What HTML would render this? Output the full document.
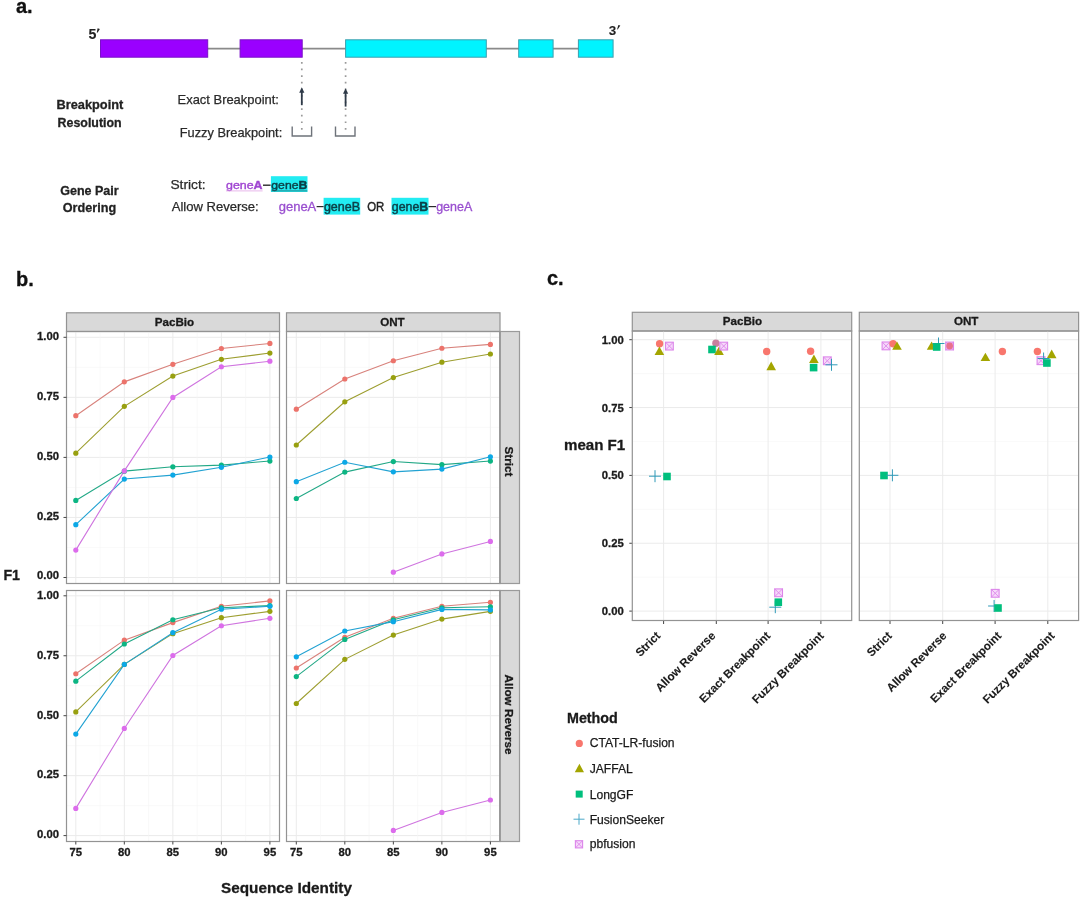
<!DOCTYPE html>
<html><head><meta charset="utf-8"><style>
html,body{margin:0;padding:0;background:#fff;}
body{width:1080px;height:898px;overflow:hidden;}
svg{display:block;font-family:"Liberation Sans",sans-serif;filter:blur(0.35px);}
</style></head><body>
<svg width="1080" height="898" viewBox="0 0 1080 898">
<rect width="1080" height="898" fill="#fff"/>
<text x="16" y="12.5" font-size="20" font-weight="bold" fill="#111" stroke="#111" stroke-width="0.3">a.</text>
<line x1="100" y1="48.6" x2="613" y2="48.6" stroke="#8a8a8a" stroke-width="1.6"/>
<rect x="100.5" y="39.8" width="107.19999999999999" height="17.4" fill="#9a00ff" stroke="#7a10c8" stroke-width="1"/>
<rect x="240.1" y="39.8" width="62.099999999999994" height="17.4" fill="#9a00ff" stroke="#7a10c8" stroke-width="1"/>
<rect x="345.6" y="39.8" width="140.7" height="17.4" fill="#00f4ff" stroke="#3c9fae" stroke-width="1"/>
<rect x="518.7" y="39.8" width="34.39999999999998" height="17.4" fill="#00f4ff" stroke="#3c9fae" stroke-width="1"/>
<rect x="578.4" y="39.8" width="34.700000000000045" height="17.4" fill="#00f4ff" stroke="#3c9fae" stroke-width="1"/>
<text x="88.6" y="39.2" font-size="14.2" font-weight="bold" fill="#222" stroke="#222" stroke-width="0.1">5</text><path d="M97.6 28.3 L99.9 28.9 L97.5 32.7 L96.8 32.5 Z" fill="#222"/>
<text x="608.8" y="34.7" font-size="13.4" font-weight="bold" fill="#222" stroke="#222" stroke-width="0.1">3</text><path d="M618.4 24.9 L620.3 25.4 L617.7 29.4 L617.1 29.2 Z" fill="#222"/>
<line x1="301.8" y1="62" x2="301.8" y2="130" stroke="#9a9a9a" stroke-width="1.7" stroke-dasharray="1.7 4.9"/>
<line x1="345.6" y1="62" x2="345.6" y2="130" stroke="#9a9a9a" stroke-width="1.7" stroke-dasharray="1.7 4.9"/>
<line x1="301.8" y1="91.2" x2="301.8" y2="105.2" stroke="#2e3a48" stroke-width="1.8"/>
<path d="M299.2 92.7 L301.8 87.2 L304.40000000000003 92.7 Z" fill="#2e3a48"/>
<line x1="345.6" y1="92.2" x2="345.6" y2="106.6" stroke="#2e3a48" stroke-width="1.8"/>
<path d="M343.0 93.7 L345.6 88.2 L348.20000000000005 93.7 Z" fill="#2e3a48"/>
<path d="M292.2 126.6 L292.2 136 L311.6 136 L311.6 126.6" fill="none" stroke="#6e737a" stroke-width="1.4"/>
<path d="M335.5 126.6 L335.5 136 L355 136 L355 126.6" fill="none" stroke="#6e737a" stroke-width="1.4"/>
<text x="56.5" y="109.4" font-size="13" font-weight="bold" fill="#222" textLength="66.8" lengthAdjust="spacingAndGlyphs" stroke="#222" stroke-width="0.3">Breakpoint</text>
<text x="57.6" y="127.2" font-size="13" font-weight="bold" fill="#222" textLength="64" lengthAdjust="spacingAndGlyphs" stroke="#222" stroke-width="0.3">Resolution</text>
<text x="177.6" y="103.9" font-size="13" fill="#2a2a2a" textLength="101.3" lengthAdjust="spacingAndGlyphs" stroke="#2a2a2a" stroke-width="0.25">Exact Breakpoint:</text>
<text x="179.8" y="137.2" font-size="13" fill="#2a2a2a" textLength="102.4" lengthAdjust="spacingAndGlyphs" stroke="#2a2a2a" stroke-width="0.25">Fuzzy Breakpoint:</text>
<text x="60.2" y="194.8" font-size="13" font-weight="bold" fill="#222" textLength="58.5" lengthAdjust="spacingAndGlyphs" stroke="#222" stroke-width="0.3">Gene Pair</text>
<text x="62.8" y="211.7" font-size="13" font-weight="bold" fill="#222" textLength="53.3" lengthAdjust="spacingAndGlyphs" stroke="#222" stroke-width="0.3">Ordering</text>
<text x="170.4" y="189.1" font-size="13" fill="#2a2a2a" textLength="35.2" lengthAdjust="spacingAndGlyphs" stroke="#2a2a2a" stroke-width="0.25">Strict:</text>
<text x="171.7" y="211.1" font-size="13" fill="#2a2a2a" textLength="87" lengthAdjust="spacingAndGlyphs" stroke="#2a2a2a" stroke-width="0.25">Allow Reverse:</text>
<rect x="270.9" y="176.2" width="36.6" height="15.8" fill="#22ecf2"/>
<text x="226" y="189" font-size="10.6" fill="#a046d2" stroke="#a046d2" stroke-width="0.35" textLength="36.6" lengthAdjust="spacingAndGlyphs">gene<tspan font-weight="bold">A</tspan></text>
<line x1="263" y1="185.2" x2="270.6" y2="185.2" stroke="#2a2a2a" stroke-width="1.4"/>
<text x="271.3" y="189" font-size="10.6" fill="#0c4048" stroke="#0c4048" stroke-width="0.4" textLength="36" lengthAdjust="spacingAndGlyphs">gene<tspan font-weight="bold">B</tspan></text>
<line x1="226" y1="190.9" x2="262.6" y2="190.9" stroke="#e2a6e6" stroke-width="0.8"/>
<line x1="271.3" y1="190.9" x2="307.3" y2="190.9" stroke="#2a7078" stroke-width="0.8"/>
<rect x="323.6" y="197.8" width="36.6" height="16.8" fill="#22ecf2"/>
<rect x="391.5" y="197.8" width="37" height="16.8" fill="#22ecf2"/>
<text x="278.7" y="210.8" font-size="12" fill="#9a50d0" stroke="#9a50d0" stroke-width="0.3" textLength="37.6" lengthAdjust="spacingAndGlyphs">geneA</text>
<line x1="316.6" y1="206.6" x2="323.6" y2="206.6" stroke="#2a2a2a" stroke-width="1.2"/>
<text x="323.9" y="210.8" font-size="12" fill="#0c4048" stroke="#0c4048" stroke-width="0.45" textLength="36.2" lengthAdjust="spacingAndGlyphs">geneB</text>
<text x="367.2" y="211" font-size="12.2" fill="#222" stroke="#222" stroke-width="0.4" textLength="17.1" lengthAdjust="spacingAndGlyphs">OR</text>
<text x="391.8" y="210.8" font-size="12" fill="#0c4048" stroke="#0c4048" stroke-width="0.45" textLength="36.4" lengthAdjust="spacingAndGlyphs">gene<tspan font-weight="bold">B</tspan></text>
<line x1="428.5" y1="206.6" x2="436" y2="206.6" stroke="#2a2a2a" stroke-width="1.2"/>
<text x="436.2" y="210.8" font-size="12" fill="#9a50d0" stroke="#9a50d0" stroke-width="0.3" textLength="36" lengthAdjust="spacingAndGlyphs">geneA</text>
<text x="16" y="285.7" font-size="20" font-weight="bold" fill="#111" stroke="#111" stroke-width="0.3">b.</text>
<rect x="66.5" y="312.8" width="213.0" height="18.7" fill="#d9d9d9" stroke="#939393" stroke-width="1.2"/>
<text x="174.5" y="325.9" font-size="11.6" font-weight="bold" fill="#1a1a1a" text-anchor="middle" stroke="#1a1a1a" stroke-width="0.3">PacBio</text>
<line x1="66.5" y1="577.50" x2="279.5" y2="577.50" stroke="#ebebeb" stroke-width="1.0"/><line x1="66.5" y1="547.48" x2="279.5" y2="547.48" stroke="#f5f5f5" stroke-width="0.6"/><line x1="66.5" y1="517.45" x2="279.5" y2="517.45" stroke="#ebebeb" stroke-width="1.0"/><line x1="66.5" y1="487.43" x2="279.5" y2="487.43" stroke="#f5f5f5" stroke-width="0.6"/><line x1="66.5" y1="457.40" x2="279.5" y2="457.40" stroke="#ebebeb" stroke-width="1.0"/><line x1="66.5" y1="427.38" x2="279.5" y2="427.38" stroke="#f5f5f5" stroke-width="0.6"/><line x1="66.5" y1="397.35" x2="279.5" y2="397.35" stroke="#ebebeb" stroke-width="1.0"/><line x1="66.5" y1="367.33" x2="279.5" y2="367.33" stroke="#f5f5f5" stroke-width="0.6"/><line x1="66.5" y1="337.30" x2="279.5" y2="337.30" stroke="#ebebeb" stroke-width="1.0"/><line x1="75.80" y1="331.5" x2="75.80" y2="583.5" stroke="#ebebeb" stroke-width="1.0"/><line x1="100.06" y1="331.5" x2="100.06" y2="583.5" stroke="#f5f5f5" stroke-width="0.6"/><line x1="124.32" y1="331.5" x2="124.32" y2="583.5" stroke="#ebebeb" stroke-width="1.0"/><line x1="148.59" y1="331.5" x2="148.59" y2="583.5" stroke="#f5f5f5" stroke-width="0.6"/><line x1="172.85" y1="331.5" x2="172.85" y2="583.5" stroke="#ebebeb" stroke-width="1.0"/><line x1="197.11" y1="331.5" x2="197.11" y2="583.5" stroke="#f5f5f5" stroke-width="0.6"/><line x1="221.38" y1="331.5" x2="221.38" y2="583.5" stroke="#ebebeb" stroke-width="1.0"/><line x1="245.64" y1="331.5" x2="245.64" y2="583.5" stroke="#f5f5f5" stroke-width="0.6"/><line x1="269.90" y1="331.5" x2="269.90" y2="583.5" stroke="#ebebeb" stroke-width="1.0"/>
<polyline points="75.80,415.70 124.32,381.86 172.85,364.34 221.38,348.50 269.90,343.46" fill="none" stroke="#d8827c" stroke-width="1.1"/>
<polyline points="75.80,453.14 124.32,406.34 172.85,376.10 221.38,359.30 269.90,353.06" fill="none" stroke="#9d9e30" stroke-width="1.1"/>
<polyline points="75.80,500.42 124.32,471.14 172.85,466.82 221.38,465.14 269.90,461.06" fill="none" stroke="#22a886" stroke-width="1.1"/>
<polyline points="75.80,524.66 124.32,479.06 172.85,475.10 221.38,467.30 269.90,456.98" fill="none" stroke="#22a2d2" stroke-width="1.1"/>
<polyline points="75.80,550.10 124.32,470.90 172.85,397.46 221.38,366.74 269.90,361.22" fill="none" stroke="#cf74df" stroke-width="1.1"/>
<circle cx="75.80" cy="415.70" r="2.6" fill="#ec736b"/>
<circle cx="124.32" cy="381.86" r="2.6" fill="#ec736b"/>
<circle cx="172.85" cy="364.34" r="2.6" fill="#ec736b"/>
<circle cx="221.38" cy="348.50" r="2.6" fill="#ec736b"/>
<circle cx="269.90" cy="343.46" r="2.6" fill="#ec736b"/>
<circle cx="75.80" cy="453.14" r="2.6" fill="#98a010"/>
<circle cx="124.32" cy="406.34" r="2.6" fill="#98a010"/>
<circle cx="172.85" cy="376.10" r="2.6" fill="#98a010"/>
<circle cx="221.38" cy="359.30" r="2.6" fill="#98a010"/>
<circle cx="269.90" cy="353.06" r="2.6" fill="#98a010"/>
<circle cx="75.80" cy="500.42" r="2.6" fill="#0cb583"/>
<circle cx="124.32" cy="471.14" r="2.6" fill="#0cb583"/>
<circle cx="172.85" cy="466.82" r="2.6" fill="#0cb583"/>
<circle cx="221.38" cy="465.14" r="2.6" fill="#0cb583"/>
<circle cx="269.90" cy="461.06" r="2.6" fill="#0cb583"/>
<circle cx="75.80" cy="524.66" r="2.6" fill="#0ca8e6"/>
<circle cx="124.32" cy="479.06" r="2.6" fill="#0ca8e6"/>
<circle cx="172.85" cy="475.10" r="2.6" fill="#0ca8e6"/>
<circle cx="221.38" cy="467.30" r="2.6" fill="#0ca8e6"/>
<circle cx="269.90" cy="456.98" r="2.6" fill="#0ca8e6"/>
<circle cx="75.80" cy="550.10" r="2.6" fill="#dc6cec"/>
<circle cx="124.32" cy="470.90" r="2.6" fill="#dc6cec"/>
<circle cx="172.85" cy="397.46" r="2.6" fill="#dc6cec"/>
<circle cx="221.38" cy="366.74" r="2.6" fill="#dc6cec"/>
<circle cx="269.90" cy="361.22" r="2.6" fill="#dc6cec"/>
<rect x="66.5" y="331.5" width="213.0" height="252.0" fill="none" stroke="#939393" stroke-width="1.2"/>
<line x1="63.5" y1="577.50" x2="66.5" y2="577.50" stroke="#444" stroke-width="1"/>
<text x="59.0" y="578.70" font-size="11.3" font-weight="bold" fill="#1a1a1a" text-anchor="end" stroke="#1a1a1a" stroke-width="0.3">0.00</text>
<line x1="63.5" y1="517.45" x2="66.5" y2="517.45" stroke="#444" stroke-width="1"/>
<text x="59.0" y="520.25" font-size="11.3" font-weight="bold" fill="#1a1a1a" text-anchor="end" stroke="#1a1a1a" stroke-width="0.3">0.25</text>
<line x1="63.5" y1="457.40" x2="66.5" y2="457.40" stroke="#444" stroke-width="1"/>
<text x="59.0" y="460.20" font-size="11.3" font-weight="bold" fill="#1a1a1a" text-anchor="end" stroke="#1a1a1a" stroke-width="0.3">0.50</text>
<line x1="63.5" y1="397.35" x2="66.5" y2="397.35" stroke="#444" stroke-width="1"/>
<text x="59.0" y="400.15" font-size="11.3" font-weight="bold" fill="#1a1a1a" text-anchor="end" stroke="#1a1a1a" stroke-width="0.3">0.75</text>
<line x1="63.5" y1="337.30" x2="66.5" y2="337.30" stroke="#444" stroke-width="1"/>
<text x="59.0" y="340.10" font-size="11.3" font-weight="bold" fill="#1a1a1a" text-anchor="end" stroke="#1a1a1a" stroke-width="0.3">1.00</text>
<line x1="66.5" y1="835.60" x2="279.5" y2="835.60" stroke="#ebebeb" stroke-width="1.0"/><line x1="66.5" y1="805.62" x2="279.5" y2="805.62" stroke="#f5f5f5" stroke-width="0.6"/><line x1="66.5" y1="775.65" x2="279.5" y2="775.65" stroke="#ebebeb" stroke-width="1.0"/><line x1="66.5" y1="745.67" x2="279.5" y2="745.67" stroke="#f5f5f5" stroke-width="0.6"/><line x1="66.5" y1="715.70" x2="279.5" y2="715.70" stroke="#ebebeb" stroke-width="1.0"/><line x1="66.5" y1="685.73" x2="279.5" y2="685.73" stroke="#f5f5f5" stroke-width="0.6"/><line x1="66.5" y1="655.75" x2="279.5" y2="655.75" stroke="#ebebeb" stroke-width="1.0"/><line x1="66.5" y1="625.77" x2="279.5" y2="625.77" stroke="#f5f5f5" stroke-width="0.6"/><line x1="66.5" y1="595.80" x2="279.5" y2="595.80" stroke="#ebebeb" stroke-width="1.0"/><line x1="75.80" y1="590.5" x2="75.80" y2="841.5" stroke="#ebebeb" stroke-width="1.0"/><line x1="100.06" y1="590.5" x2="100.06" y2="841.5" stroke="#f5f5f5" stroke-width="0.6"/><line x1="124.32" y1="590.5" x2="124.32" y2="841.5" stroke="#ebebeb" stroke-width="1.0"/><line x1="148.59" y1="590.5" x2="148.59" y2="841.5" stroke="#f5f5f5" stroke-width="0.6"/><line x1="172.85" y1="590.5" x2="172.85" y2="841.5" stroke="#ebebeb" stroke-width="1.0"/><line x1="197.11" y1="590.5" x2="197.11" y2="841.5" stroke="#f5f5f5" stroke-width="0.6"/><line x1="221.38" y1="590.5" x2="221.38" y2="841.5" stroke="#ebebeb" stroke-width="1.0"/><line x1="245.64" y1="590.5" x2="245.64" y2="841.5" stroke="#f5f5f5" stroke-width="0.6"/><line x1="269.90" y1="590.5" x2="269.90" y2="841.5" stroke="#ebebeb" stroke-width="1.0"/>
<polyline points="75.80,673.74 124.32,640.14 172.85,622.62 221.38,606.30 269.90,600.90" fill="none" stroke="#d8827c" stroke-width="1.1"/>
<polyline points="75.80,711.90 124.32,664.38 172.85,633.66 221.38,617.70 269.90,611.34" fill="none" stroke="#9d9e30" stroke-width="1.1"/>
<polyline points="75.80,681.18 124.32,643.98 172.85,619.74 221.38,607.74 269.90,605.58" fill="none" stroke="#22a886" stroke-width="1.1"/>
<polyline points="75.80,734.10 124.32,664.38 172.85,632.70 221.38,609.18 269.90,606.30" fill="none" stroke="#22a2d2" stroke-width="1.1"/>
<polyline points="75.80,808.38 124.32,728.46 172.85,655.50 221.38,625.74 269.90,618.30" fill="none" stroke="#cf74df" stroke-width="1.1"/>
<circle cx="75.80" cy="673.74" r="2.6" fill="#ec736b"/>
<circle cx="124.32" cy="640.14" r="2.6" fill="#ec736b"/>
<circle cx="172.85" cy="622.62" r="2.6" fill="#ec736b"/>
<circle cx="221.38" cy="606.30" r="2.6" fill="#ec736b"/>
<circle cx="269.90" cy="600.90" r="2.6" fill="#ec736b"/>
<circle cx="75.80" cy="711.90" r="2.6" fill="#98a010"/>
<circle cx="124.32" cy="664.38" r="2.6" fill="#98a010"/>
<circle cx="172.85" cy="633.66" r="2.6" fill="#98a010"/>
<circle cx="221.38" cy="617.70" r="2.6" fill="#98a010"/>
<circle cx="269.90" cy="611.34" r="2.6" fill="#98a010"/>
<circle cx="75.80" cy="681.18" r="2.6" fill="#0cb583"/>
<circle cx="124.32" cy="643.98" r="2.6" fill="#0cb583"/>
<circle cx="172.85" cy="619.74" r="2.6" fill="#0cb583"/>
<circle cx="221.38" cy="607.74" r="2.6" fill="#0cb583"/>
<circle cx="269.90" cy="605.58" r="2.6" fill="#0cb583"/>
<circle cx="75.80" cy="734.10" r="2.6" fill="#0ca8e6"/>
<circle cx="124.32" cy="664.38" r="2.6" fill="#0ca8e6"/>
<circle cx="172.85" cy="632.70" r="2.6" fill="#0ca8e6"/>
<circle cx="221.38" cy="609.18" r="2.6" fill="#0ca8e6"/>
<circle cx="269.90" cy="606.30" r="2.6" fill="#0ca8e6"/>
<circle cx="75.80" cy="808.38" r="2.6" fill="#dc6cec"/>
<circle cx="124.32" cy="728.46" r="2.6" fill="#dc6cec"/>
<circle cx="172.85" cy="655.50" r="2.6" fill="#dc6cec"/>
<circle cx="221.38" cy="625.74" r="2.6" fill="#dc6cec"/>
<circle cx="269.90" cy="618.30" r="2.6" fill="#dc6cec"/>
<rect x="66.5" y="590.5" width="213.0" height="251.0" fill="none" stroke="#939393" stroke-width="1.2"/>
<line x1="75.80" y1="841.5" x2="75.80" y2="844.5" stroke="#444" stroke-width="1"/>
<text x="75.80" y="856" font-size="11.3" font-weight="bold" fill="#1a1a1a" text-anchor="middle" stroke="#1a1a1a" stroke-width="0.3">75</text>
<line x1="124.32" y1="841.5" x2="124.32" y2="844.5" stroke="#444" stroke-width="1"/>
<text x="124.32" y="856" font-size="11.3" font-weight="bold" fill="#1a1a1a" text-anchor="middle" stroke="#1a1a1a" stroke-width="0.3">80</text>
<line x1="172.85" y1="841.5" x2="172.85" y2="844.5" stroke="#444" stroke-width="1"/>
<text x="172.85" y="856" font-size="11.3" font-weight="bold" fill="#1a1a1a" text-anchor="middle" stroke="#1a1a1a" stroke-width="0.3">85</text>
<line x1="221.38" y1="841.5" x2="221.38" y2="844.5" stroke="#444" stroke-width="1"/>
<text x="221.38" y="856" font-size="11.3" font-weight="bold" fill="#1a1a1a" text-anchor="middle" stroke="#1a1a1a" stroke-width="0.3">90</text>
<line x1="269.90" y1="841.5" x2="269.90" y2="844.5" stroke="#444" stroke-width="1"/>
<text x="269.90" y="856" font-size="11.3" font-weight="bold" fill="#1a1a1a" text-anchor="middle" stroke="#1a1a1a" stroke-width="0.3">95</text>
<line x1="63.5" y1="835.60" x2="66.5" y2="835.60" stroke="#444" stroke-width="1"/>
<text x="59.0" y="838.40" font-size="11.3" font-weight="bold" fill="#1a1a1a" text-anchor="end" stroke="#1a1a1a" stroke-width="0.3">0.00</text>
<line x1="63.5" y1="775.65" x2="66.5" y2="775.65" stroke="#444" stroke-width="1"/>
<text x="59.0" y="778.45" font-size="11.3" font-weight="bold" fill="#1a1a1a" text-anchor="end" stroke="#1a1a1a" stroke-width="0.3">0.25</text>
<line x1="63.5" y1="715.70" x2="66.5" y2="715.70" stroke="#444" stroke-width="1"/>
<text x="59.0" y="718.50" font-size="11.3" font-weight="bold" fill="#1a1a1a" text-anchor="end" stroke="#1a1a1a" stroke-width="0.3">0.50</text>
<line x1="63.5" y1="655.75" x2="66.5" y2="655.75" stroke="#444" stroke-width="1"/>
<text x="59.0" y="658.55" font-size="11.3" font-weight="bold" fill="#1a1a1a" text-anchor="end" stroke="#1a1a1a" stroke-width="0.3">0.75</text>
<line x1="63.5" y1="595.80" x2="66.5" y2="595.80" stroke="#444" stroke-width="1"/>
<text x="59.0" y="598.60" font-size="11.3" font-weight="bold" fill="#1a1a1a" text-anchor="end" stroke="#1a1a1a" stroke-width="0.3">1.00</text>
<rect x="286.5" y="312.8" width="213.5" height="18.7" fill="#d9d9d9" stroke="#939393" stroke-width="1.2"/>
<text x="392.45" y="325.9" font-size="11.6" font-weight="bold" fill="#1a1a1a" text-anchor="middle" stroke="#1a1a1a" stroke-width="0.3">ONT</text>
<line x1="286.5" y1="577.50" x2="500.0" y2="577.50" stroke="#ebebeb" stroke-width="1.0"/><line x1="286.5" y1="547.48" x2="500.0" y2="547.48" stroke="#f5f5f5" stroke-width="0.6"/><line x1="286.5" y1="517.45" x2="500.0" y2="517.45" stroke="#ebebeb" stroke-width="1.0"/><line x1="286.5" y1="487.43" x2="500.0" y2="487.43" stroke="#f5f5f5" stroke-width="0.6"/><line x1="286.5" y1="457.40" x2="500.0" y2="457.40" stroke="#ebebeb" stroke-width="1.0"/><line x1="286.5" y1="427.38" x2="500.0" y2="427.38" stroke="#f5f5f5" stroke-width="0.6"/><line x1="286.5" y1="397.35" x2="500.0" y2="397.35" stroke="#ebebeb" stroke-width="1.0"/><line x1="286.5" y1="367.33" x2="500.0" y2="367.33" stroke="#f5f5f5" stroke-width="0.6"/><line x1="286.5" y1="337.30" x2="500.0" y2="337.30" stroke="#ebebeb" stroke-width="1.0"/><line x1="296.30" y1="331.5" x2="296.30" y2="583.5" stroke="#ebebeb" stroke-width="1.0"/><line x1="320.56" y1="331.5" x2="320.56" y2="583.5" stroke="#f5f5f5" stroke-width="0.6"/><line x1="344.82" y1="331.5" x2="344.82" y2="583.5" stroke="#ebebeb" stroke-width="1.0"/><line x1="369.09" y1="331.5" x2="369.09" y2="583.5" stroke="#f5f5f5" stroke-width="0.6"/><line x1="393.35" y1="331.5" x2="393.35" y2="583.5" stroke="#ebebeb" stroke-width="1.0"/><line x1="417.61" y1="331.5" x2="417.61" y2="583.5" stroke="#f5f5f5" stroke-width="0.6"/><line x1="441.88" y1="331.5" x2="441.88" y2="583.5" stroke="#ebebeb" stroke-width="1.0"/><line x1="466.14" y1="331.5" x2="466.14" y2="583.5" stroke="#f5f5f5" stroke-width="0.6"/><line x1="490.40" y1="331.5" x2="490.40" y2="583.5" stroke="#ebebeb" stroke-width="1.0"/>
<polyline points="296.30,409.22 344.82,378.98 393.35,360.74 441.88,348.26 490.40,344.42" fill="none" stroke="#d8827c" stroke-width="1.1"/>
<polyline points="296.30,444.98 344.82,401.78 393.35,377.54 441.88,362.18 490.40,354.02" fill="none" stroke="#9d9e30" stroke-width="1.1"/>
<polyline points="296.30,498.50 344.82,472.10 393.35,461.54 441.88,464.66 490.40,461.06" fill="none" stroke="#22a886" stroke-width="1.1"/>
<polyline points="296.30,481.70 344.82,462.26 393.35,471.86 441.88,469.10 490.40,456.74" fill="none" stroke="#22a2d2" stroke-width="1.1"/>
<polyline points="393.35,572.18 441.88,553.94 490.40,541.46" fill="none" stroke="#cf74df" stroke-width="1.1"/>
<circle cx="296.30" cy="409.22" r="2.6" fill="#ec736b"/>
<circle cx="344.82" cy="378.98" r="2.6" fill="#ec736b"/>
<circle cx="393.35" cy="360.74" r="2.6" fill="#ec736b"/>
<circle cx="441.88" cy="348.26" r="2.6" fill="#ec736b"/>
<circle cx="490.40" cy="344.42" r="2.6" fill="#ec736b"/>
<circle cx="296.30" cy="444.98" r="2.6" fill="#98a010"/>
<circle cx="344.82" cy="401.78" r="2.6" fill="#98a010"/>
<circle cx="393.35" cy="377.54" r="2.6" fill="#98a010"/>
<circle cx="441.88" cy="362.18" r="2.6" fill="#98a010"/>
<circle cx="490.40" cy="354.02" r="2.6" fill="#98a010"/>
<circle cx="296.30" cy="498.50" r="2.6" fill="#0cb583"/>
<circle cx="344.82" cy="472.10" r="2.6" fill="#0cb583"/>
<circle cx="393.35" cy="461.54" r="2.6" fill="#0cb583"/>
<circle cx="441.88" cy="464.66" r="2.6" fill="#0cb583"/>
<circle cx="490.40" cy="461.06" r="2.6" fill="#0cb583"/>
<circle cx="296.30" cy="481.70" r="2.6" fill="#0ca8e6"/>
<circle cx="344.82" cy="462.26" r="2.6" fill="#0ca8e6"/>
<circle cx="393.35" cy="471.86" r="2.6" fill="#0ca8e6"/>
<circle cx="441.88" cy="469.10" r="2.6" fill="#0ca8e6"/>
<circle cx="490.40" cy="456.74" r="2.6" fill="#0ca8e6"/>
<circle cx="393.35" cy="572.18" r="2.6" fill="#dc6cec"/>
<circle cx="441.88" cy="553.94" r="2.6" fill="#dc6cec"/>
<circle cx="490.40" cy="541.46" r="2.6" fill="#dc6cec"/>
<rect x="286.5" y="331.5" width="213.5" height="252.0" fill="none" stroke="#939393" stroke-width="1.2"/>
<line x1="286.5" y1="835.60" x2="500.0" y2="835.60" stroke="#ebebeb" stroke-width="1.0"/><line x1="286.5" y1="805.62" x2="500.0" y2="805.62" stroke="#f5f5f5" stroke-width="0.6"/><line x1="286.5" y1="775.65" x2="500.0" y2="775.65" stroke="#ebebeb" stroke-width="1.0"/><line x1="286.5" y1="745.67" x2="500.0" y2="745.67" stroke="#f5f5f5" stroke-width="0.6"/><line x1="286.5" y1="715.70" x2="500.0" y2="715.70" stroke="#ebebeb" stroke-width="1.0"/><line x1="286.5" y1="685.73" x2="500.0" y2="685.73" stroke="#f5f5f5" stroke-width="0.6"/><line x1="286.5" y1="655.75" x2="500.0" y2="655.75" stroke="#ebebeb" stroke-width="1.0"/><line x1="286.5" y1="625.77" x2="500.0" y2="625.77" stroke="#f5f5f5" stroke-width="0.6"/><line x1="286.5" y1="595.80" x2="500.0" y2="595.80" stroke="#ebebeb" stroke-width="1.0"/><line x1="296.30" y1="590.5" x2="296.30" y2="841.5" stroke="#ebebeb" stroke-width="1.0"/><line x1="320.56" y1="590.5" x2="320.56" y2="841.5" stroke="#f5f5f5" stroke-width="0.6"/><line x1="344.82" y1="590.5" x2="344.82" y2="841.5" stroke="#ebebeb" stroke-width="1.0"/><line x1="369.09" y1="590.5" x2="369.09" y2="841.5" stroke="#f5f5f5" stroke-width="0.6"/><line x1="393.35" y1="590.5" x2="393.35" y2="841.5" stroke="#ebebeb" stroke-width="1.0"/><line x1="417.61" y1="590.5" x2="417.61" y2="841.5" stroke="#f5f5f5" stroke-width="0.6"/><line x1="441.88" y1="590.5" x2="441.88" y2="841.5" stroke="#ebebeb" stroke-width="1.0"/><line x1="466.14" y1="590.5" x2="466.14" y2="841.5" stroke="#f5f5f5" stroke-width="0.6"/><line x1="490.40" y1="590.5" x2="490.40" y2="841.5" stroke="#ebebeb" stroke-width="1.0"/>
<polyline points="296.30,667.98 344.82,637.26 393.35,618.30 441.88,606.30 490.40,602.29" fill="none" stroke="#d8827c" stroke-width="1.1"/>
<polyline points="296.30,703.50 344.82,659.34 393.35,635.10 441.88,619.09 490.40,611.34" fill="none" stroke="#9d9e30" stroke-width="1.1"/>
<polyline points="296.30,676.62 344.82,639.42 393.35,619.74 441.88,607.74 490.40,606.78" fill="none" stroke="#22a886" stroke-width="1.1"/>
<polyline points="296.30,656.80 344.82,631.02 393.35,621.66 441.88,609.42 490.40,609.90" fill="none" stroke="#22a2d2" stroke-width="1.1"/>
<polyline points="393.35,830.46 441.88,812.46 490.40,799.98" fill="none" stroke="#cf74df" stroke-width="1.1"/>
<circle cx="296.30" cy="667.98" r="2.6" fill="#ec736b"/>
<circle cx="344.82" cy="637.26" r="2.6" fill="#ec736b"/>
<circle cx="393.35" cy="618.30" r="2.6" fill="#ec736b"/>
<circle cx="441.88" cy="606.30" r="2.6" fill="#ec736b"/>
<circle cx="490.40" cy="602.29" r="2.6" fill="#ec736b"/>
<circle cx="296.30" cy="703.50" r="2.6" fill="#98a010"/>
<circle cx="344.82" cy="659.34" r="2.6" fill="#98a010"/>
<circle cx="393.35" cy="635.10" r="2.6" fill="#98a010"/>
<circle cx="441.88" cy="619.09" r="2.6" fill="#98a010"/>
<circle cx="490.40" cy="611.34" r="2.6" fill="#98a010"/>
<circle cx="296.30" cy="676.62" r="2.6" fill="#0cb583"/>
<circle cx="344.82" cy="639.42" r="2.6" fill="#0cb583"/>
<circle cx="393.35" cy="619.74" r="2.6" fill="#0cb583"/>
<circle cx="441.88" cy="607.74" r="2.6" fill="#0cb583"/>
<circle cx="490.40" cy="606.78" r="2.6" fill="#0cb583"/>
<circle cx="296.30" cy="656.80" r="2.6" fill="#0ca8e6"/>
<circle cx="344.82" cy="631.02" r="2.6" fill="#0ca8e6"/>
<circle cx="393.35" cy="621.66" r="2.6" fill="#0ca8e6"/>
<circle cx="441.88" cy="609.42" r="2.6" fill="#0ca8e6"/>
<circle cx="490.40" cy="609.90" r="2.6" fill="#0ca8e6"/>
<circle cx="393.35" cy="830.46" r="2.6" fill="#dc6cec"/>
<circle cx="441.88" cy="812.46" r="2.6" fill="#dc6cec"/>
<circle cx="490.40" cy="799.98" r="2.6" fill="#dc6cec"/>
<rect x="286.5" y="590.5" width="213.5" height="251.0" fill="none" stroke="#939393" stroke-width="1.2"/>
<line x1="296.30" y1="841.5" x2="296.30" y2="844.5" stroke="#444" stroke-width="1"/>
<text x="296.30" y="856" font-size="11.3" font-weight="bold" fill="#1a1a1a" text-anchor="middle" stroke="#1a1a1a" stroke-width="0.3">75</text>
<line x1="344.82" y1="841.5" x2="344.82" y2="844.5" stroke="#444" stroke-width="1"/>
<text x="344.82" y="856" font-size="11.3" font-weight="bold" fill="#1a1a1a" text-anchor="middle" stroke="#1a1a1a" stroke-width="0.3">80</text>
<line x1="393.35" y1="841.5" x2="393.35" y2="844.5" stroke="#444" stroke-width="1"/>
<text x="393.35" y="856" font-size="11.3" font-weight="bold" fill="#1a1a1a" text-anchor="middle" stroke="#1a1a1a" stroke-width="0.3">85</text>
<line x1="441.88" y1="841.5" x2="441.88" y2="844.5" stroke="#444" stroke-width="1"/>
<text x="441.88" y="856" font-size="11.3" font-weight="bold" fill="#1a1a1a" text-anchor="middle" stroke="#1a1a1a" stroke-width="0.3">90</text>
<line x1="490.40" y1="841.5" x2="490.40" y2="844.5" stroke="#444" stroke-width="1"/>
<text x="490.40" y="856" font-size="11.3" font-weight="bold" fill="#1a1a1a" text-anchor="middle" stroke="#1a1a1a" stroke-width="0.3">95</text>
<rect x="500" y="331.5" width="19.5" height="252.0" fill="#d9d9d9" stroke="#9a9a9a" stroke-width="1.2"/>
<line x1="500" y1="331.5" x2="500" y2="583.5" stroke="#939393" stroke-width="1.4"/>
<text transform="translate(504.8 461.5) rotate(90)" font-size="11.7" font-weight="bold" fill="#1a1a1a" text-anchor="middle" stroke="#1a1a1a" stroke-width="0.3">Strict</text>
<rect x="500" y="590.5" width="19.5" height="251.0" fill="#d9d9d9" stroke="#9a9a9a" stroke-width="1.2"/>
<line x1="500" y1="590.5" x2="500" y2="841.5" stroke="#939393" stroke-width="1.4"/>
<text transform="translate(504.8 714.5) rotate(90)" font-size="11.7" font-weight="bold" fill="#1a1a1a" text-anchor="middle" stroke="#1a1a1a" stroke-width="0.3">Allow Reverse</text>
<text x="3.4" y="580.2" font-size="14.2" font-weight="bold" fill="#1a1a1a" stroke="#1a1a1a" stroke-width="0.3">F1</text>
<text x="221" y="893" font-size="15.3" font-weight="bold" fill="#1a1a1a" stroke="#1a1a1a" stroke-width="0.3">Sequence Identity</text>
<text x="547" y="284.7" font-size="20" font-weight="bold" fill="#111" stroke="#111" stroke-width="0.3">c.</text>
<rect x="632.3" y="312.3" width="219.4000000000001" height="18.7" fill="#d9d9d9" stroke="#939393" stroke-width="1.2"/>
<text x="742.5" y="324.6" font-size="11.6" font-weight="bold" fill="#1a1a1a" text-anchor="middle" stroke="#1a1a1a" stroke-width="0.3">PacBio</text>
<line x1="632.3" y1="611.10" x2="851.7" y2="611.10" stroke="#ebebeb" stroke-width="1.0"/><line x1="632.3" y1="577.18" x2="851.7" y2="577.18" stroke="#f5f5f5" stroke-width="0.6"/><line x1="632.3" y1="543.25" x2="851.7" y2="543.25" stroke="#ebebeb" stroke-width="1.0"/><line x1="632.3" y1="509.33" x2="851.7" y2="509.33" stroke="#f5f5f5" stroke-width="0.6"/><line x1="632.3" y1="475.40" x2="851.7" y2="475.40" stroke="#ebebeb" stroke-width="1.0"/><line x1="632.3" y1="441.48" x2="851.7" y2="441.48" stroke="#f5f5f5" stroke-width="0.6"/><line x1="632.3" y1="407.55" x2="851.7" y2="407.55" stroke="#ebebeb" stroke-width="1.0"/><line x1="632.3" y1="373.63" x2="851.7" y2="373.63" stroke="#f5f5f5" stroke-width="0.6"/><line x1="632.3" y1="339.70" x2="851.7" y2="339.70" stroke="#ebebeb" stroke-width="1.0"/><line x1="663.6" y1="331.0" x2="663.6" y2="620.5" stroke="#ebebeb" stroke-width="1"/><line x1="716.3" y1="331.0" x2="716.3" y2="620.5" stroke="#ebebeb" stroke-width="1"/><line x1="768.1" y1="331.0" x2="768.1" y2="620.5" stroke="#ebebeb" stroke-width="1"/><line x1="820.9" y1="331.0" x2="820.9" y2="620.5" stroke="#ebebeb" stroke-width="1"/>
<line x1="663.6" y1="620.5" x2="663.6" y2="624.0" stroke="#444" stroke-width="1"/>
<text transform="translate(661.10 636.4) rotate(-45)" font-size="11.6" font-weight="bold" fill="#1a1a1a" text-anchor="end" stroke="#1a1a1a" stroke-width="0.12">Strict</text>
<line x1="716.3" y1="620.5" x2="716.3" y2="624.0" stroke="#444" stroke-width="1"/>
<text transform="translate(716.20 636.4) rotate(-45)" font-size="11.6" font-weight="bold" fill="#1a1a1a" text-anchor="end" stroke="#1a1a1a" stroke-width="0.12">Allow Reverse</text>
<line x1="768.1" y1="620.5" x2="768.1" y2="624.0" stroke="#444" stroke-width="1"/>
<text transform="translate(770.90 636.4) rotate(-45)" font-size="11.6" font-weight="bold" fill="#1a1a1a" text-anchor="end" stroke="#1a1a1a" stroke-width="0.12">Exact Breakpoint</text>
<line x1="820.9" y1="620.5" x2="820.9" y2="624.0" stroke="#444" stroke-width="1"/>
<text transform="translate(824.60 636.4) rotate(-45)" font-size="11.6" font-weight="bold" fill="#1a1a1a" text-anchor="end" stroke="#1a1a1a" stroke-width="0.12">Fuzzy Breakpoint</text>
<line x1="629.3" y1="611.10" x2="632.3" y2="611.10" stroke="#444" stroke-width="1"/>
<text x="623.8" y="615.10" font-size="11.3" font-weight="bold" fill="#1a1a1a" text-anchor="end" stroke="#1a1a1a" stroke-width="0.3">0.00</text>
<line x1="629.3" y1="543.25" x2="632.3" y2="543.25" stroke="#444" stroke-width="1"/>
<text x="623.8" y="547.25" font-size="11.3" font-weight="bold" fill="#1a1a1a" text-anchor="end" stroke="#1a1a1a" stroke-width="0.3">0.25</text>
<line x1="629.3" y1="475.40" x2="632.3" y2="475.40" stroke="#444" stroke-width="1"/>
<text x="623.8" y="479.40" font-size="11.3" font-weight="bold" fill="#1a1a1a" text-anchor="end" stroke="#1a1a1a" stroke-width="0.3">0.50</text>
<line x1="629.3" y1="407.55" x2="632.3" y2="407.55" stroke="#444" stroke-width="1"/>
<text x="623.8" y="411.55" font-size="11.3" font-weight="bold" fill="#1a1a1a" text-anchor="end" stroke="#1a1a1a" stroke-width="0.3">0.75</text>
<line x1="629.3" y1="339.70" x2="632.3" y2="339.70" stroke="#444" stroke-width="1"/>
<text x="623.8" y="343.70" font-size="11.3" font-weight="bold" fill="#1a1a1a" text-anchor="end" stroke="#1a1a1a" stroke-width="0.3">1.00</text>
<rect x="859.3" y="312.3" width="219.29999999999995" height="18.7" fill="#d9d9d9" stroke="#939393" stroke-width="1.2"/>
<text x="966.15" y="324.6" font-size="11.6" font-weight="bold" fill="#1a1a1a" text-anchor="middle" stroke="#1a1a1a" stroke-width="0.3">ONT</text>
<line x1="859.3" y1="611.10" x2="1078.6" y2="611.10" stroke="#ebebeb" stroke-width="1.0"/><line x1="859.3" y1="577.18" x2="1078.6" y2="577.18" stroke="#f5f5f5" stroke-width="0.6"/><line x1="859.3" y1="543.25" x2="1078.6" y2="543.25" stroke="#ebebeb" stroke-width="1.0"/><line x1="859.3" y1="509.33" x2="1078.6" y2="509.33" stroke="#f5f5f5" stroke-width="0.6"/><line x1="859.3" y1="475.40" x2="1078.6" y2="475.40" stroke="#ebebeb" stroke-width="1.0"/><line x1="859.3" y1="441.48" x2="1078.6" y2="441.48" stroke="#f5f5f5" stroke-width="0.6"/><line x1="859.3" y1="407.55" x2="1078.6" y2="407.55" stroke="#ebebeb" stroke-width="1.0"/><line x1="859.3" y1="373.63" x2="1078.6" y2="373.63" stroke="#f5f5f5" stroke-width="0.6"/><line x1="859.3" y1="339.70" x2="1078.6" y2="339.70" stroke="#ebebeb" stroke-width="1.0"/><line x1="890.0" y1="331.0" x2="890.0" y2="620.5" stroke="#ebebeb" stroke-width="1"/><line x1="942.7" y1="331.0" x2="942.7" y2="620.5" stroke="#ebebeb" stroke-width="1"/><line x1="995.1" y1="331.0" x2="995.1" y2="620.5" stroke="#ebebeb" stroke-width="1"/><line x1="1047.8" y1="331.0" x2="1047.8" y2="620.5" stroke="#ebebeb" stroke-width="1"/>
<line x1="890.0" y1="620.5" x2="890.0" y2="624.0" stroke="#444" stroke-width="1"/>
<text transform="translate(892.50 636.4) rotate(-45)" font-size="11.6" font-weight="bold" fill="#1a1a1a" text-anchor="end" stroke="#1a1a1a" stroke-width="0.12">Strict</text>
<line x1="942.7" y1="620.5" x2="942.7" y2="624.0" stroke="#444" stroke-width="1"/>
<text transform="translate(947.40 636.4) rotate(-45)" font-size="11.6" font-weight="bold" fill="#1a1a1a" text-anchor="end" stroke="#1a1a1a" stroke-width="0.12">Allow Reverse</text>
<line x1="995.1" y1="620.5" x2="995.1" y2="624.0" stroke="#444" stroke-width="1"/>
<text transform="translate(1002.00 636.4) rotate(-45)" font-size="11.6" font-weight="bold" fill="#1a1a1a" text-anchor="end" stroke="#1a1a1a" stroke-width="0.12">Exact Breakpoint</text>
<line x1="1047.8" y1="620.5" x2="1047.8" y2="624.0" stroke="#444" stroke-width="1"/>
<text transform="translate(1055.30 636.4) rotate(-45)" font-size="11.6" font-weight="bold" fill="#1a1a1a" text-anchor="end" stroke="#1a1a1a" stroke-width="0.12">Fuzzy Breakpoint</text>
<path d="M649 476.2 L661 476.2 M655 470.2 L655 482.2" stroke="#2f9ab8" stroke-width="1.0" fill="none"/><rect x="663.2" y="472.7" width="7.6" height="7.6" fill="#00BF7D"/><circle cx="659.6" cy="343.8" r="3.7" fill="#F8766D"/><path d="M654.6 355 L659.4 346.6 L664.1999999999999 355 Z" fill="#A3A500"/><rect x="665.5" y="342.20000000000005" width="7.8" height="7.8" fill="#f6d8fa" stroke="#dc86ea" stroke-width="1.1"/><path d="M665.5 342.20000000000005 L673.3 350.0 M665.5 350.0 L673.3 342.20000000000005" stroke="#dc86ea" stroke-width="0.9"/><circle cx="715.9" cy="343.3" r="3.7" fill="#c97f9e"/><rect x="708.2" y="345.7" width="7.6" height="7.6" fill="#00BF7D"/><path d="M714.2 355 L719 346.6 L723.8 355 Z" fill="#A3A500"/><rect x="719.8000000000001" y="342.20000000000005" width="7.8" height="7.8" fill="#f6d8fa" stroke="#dc86ea" stroke-width="1.1"/><path d="M719.8000000000001 342.20000000000005 L727.6 350.0 M719.8000000000001 350.0 L727.6 342.20000000000005" stroke="#dc86ea" stroke-width="0.9"/><circle cx="766.7" cy="351.5" r="3.7" fill="#F8766D"/><path d="M766.4000000000001 370.2 L771.2 361.4 L776.0 370.2 Z" fill="#A3A500"/><path d="M769.3 607.2 L781.3 607.2 M775.3 601.2 L775.3 613.2" stroke="#2f9ab8" stroke-width="1.0" fill="none"/><rect x="774.5" y="598.4000000000001" width="7.6" height="7.6" fill="#00BF7D"/><rect x="774.7" y="588.9" width="7.8" height="7.8" fill="#f6d8fa" stroke="#dc86ea" stroke-width="1.1"/><path d="M774.7 588.9 L782.5 596.6999999999999 M774.7 596.6999999999999 L782.5 588.9" stroke="#dc86ea" stroke-width="0.9"/><circle cx="810.6" cy="351.2" r="3.7" fill="#F8766D"/><path d="M809.1 363 L813.9 354.6 L818.6999999999999 363 Z" fill="#A3A500"/><rect x="809.8000000000001" y="363.8" width="7.6" height="7.6" fill="#00BF7D"/><rect x="823.4" y="356.90000000000003" width="7.8" height="7.8" fill="#f6d8fa" stroke="#dc86ea" stroke-width="1.1"/><path d="M823.4 356.90000000000003 L831.1999999999999 364.7 M823.4 364.7 L831.1999999999999 356.90000000000003" stroke="#dc86ea" stroke-width="0.9"/><path d="M825.5 364.8 L837.5 364.8 M831.5 358.8 L831.5 370.8" stroke="#2f9ab8" stroke-width="1.0" fill="none"/><rect x="882.1" y="342.0" width="7.8" height="7.8" fill="#f6d8fa" stroke="#dc86ea" stroke-width="1.1"/><path d="M882.1 342.0 L889.9 349.79999999999995 M882.1 349.79999999999995 L889.9 342.0" stroke="#dc86ea" stroke-width="0.9"/><circle cx="893.1" cy="343.8" r="3.7" fill="#F8766D"/><path d="M892.2 349.8 L897 341.5 L901.8 349.8 Z" fill="#A3A500"/><rect x="880.2" y="471.7" width="7.6" height="7.6" fill="#00BF7D"/><path d="M886.4 475.3 L898.4 475.3 M892.4 469.3 L892.4 481.3" stroke="#2f9ab8" stroke-width="1.0" fill="none"/><path d="M926.8000000000001 349.8 L931.6 341.5 L936.4 349.8 Z" fill="#A3A500"/><path d="M932.5 343.5 L944.5 343.5 M938.5 337.5 L938.5 349.5" stroke="#2f9ab8" stroke-width="1.0" fill="none"/><rect x="932.9000000000001" y="343.2" width="7.6" height="7.6" fill="#00BF7D"/><rect x="945.7" y="342.1" width="7.8" height="7.8" fill="#f6d8fa" stroke="#dc86ea" stroke-width="1.1"/><path d="M945.7 342.1 L953.5 349.9 M945.7 349.9 L953.5 342.1" stroke="#dc86ea" stroke-width="0.9"/><circle cx="949.6" cy="346" r="3.4" fill="#e8708c"/><path d="M980.6 361 L985.4 352.8 L990.1999999999999 361 Z" fill="#A3A500"/><circle cx="1002.4" cy="351.5" r="3.7" fill="#F8766D"/><rect x="991.3000000000001" y="589.4" width="7.8" height="7.8" fill="#f6d8fa" stroke="#dc86ea" stroke-width="1.1"/><path d="M991.3000000000001 589.4 L999.1 597.1999999999999 M991.3000000000001 597.1999999999999 L999.1 589.4" stroke="#dc86ea" stroke-width="0.9"/><path d="M988.1 606 L1000.1 606 M994.1 600 L994.1 612" stroke="#2f9ab8" stroke-width="1.0" fill="none"/><rect x="994.2" y="604.2" width="7.6" height="7.6" fill="#00BF7D"/><circle cx="1037.4" cy="351.5" r="3.7" fill="#F8766D"/><path d="M1046.9 358.2 L1051.7 349.6 L1056.5 358.2 Z" fill="#A3A500"/><rect x="1037.1" y="356.8" width="7.8" height="7.8" fill="#f6d8fa" stroke="#dc86ea" stroke-width="1.1"/><path d="M1037.1 356.8 L1044.9 364.59999999999997 M1037.1 364.59999999999997 L1044.9 356.8" stroke="#dc86ea" stroke-width="0.9"/><path d="M1037.6 358.5 L1049.6 358.5 M1043.6 352.5 L1043.6 364.5" stroke="#2f9ab8" stroke-width="1.0" fill="none"/><rect x="1043.1000000000001" y="359.2" width="7.6" height="7.6" fill="#00BF7D"/>
<rect x="632.3" y="331.0" width="219.4000000000001" height="289.5" fill="none" stroke="#939393" stroke-width="1.2"/>
<rect x="859.3" y="331.0" width="219.29999999999995" height="289.5" fill="none" stroke="#939393" stroke-width="1.2"/>
<text x="564" y="450.2" font-size="15.1" font-weight="bold" fill="#1a1a1a" stroke="#1a1a1a" stroke-width="0.3">mean F1</text>
<text x="567" y="722.8" font-size="14.3" font-weight="bold" fill="#1a1a1a" stroke="#1a1a1a" stroke-width="0.3">Method</text>
<circle cx="579.3" cy="743.4" r="3.6" fill="#F8766D"/>
<text x="589.7" y="747.2" font-size="12.1" fill="#1a1a1a" stroke="#1a1a1a" stroke-width="0.25">CTAT-LR-fusion</text>
<path d="M574.8 772.2 L579.4 763.8 L584.0 772.2 Z" fill="#A3A500"/>
<text x="589.7" y="772.6" font-size="12.1" fill="#1a1a1a" stroke="#1a1a1a" stroke-width="0.25">JAFFAL</text>
<rect x="575.7" y="790.6" width="7.0" height="7.0" fill="#00BF7D"/>
<text x="589.7" y="798.5" font-size="12.1" fill="#1a1a1a" stroke="#1a1a1a" stroke-width="0.25">LongGF</text>
<path d="M573.5 819.2 L584.5 819.2 M579 813.7 L579 824.7" stroke="#4aa8c8" stroke-width="1.0" fill="none"/>
<text x="589.7" y="823.8" font-size="12.1" fill="#1a1a1a" stroke="#1a1a1a" stroke-width="0.25">FusionSeeker</text>
<rect x="575.4" y="840.6999999999999" width="7.2" height="7.2" fill="#f6d8fa" stroke="#dc86ea" stroke-width="1.1"/><path d="M575.4 840.6999999999999 L582.6 847.9 M575.4 847.9 L582.6 840.6999999999999" stroke="#dc86ea" stroke-width="0.9"/>
<text x="589.7" y="848.4" font-size="12.1" fill="#1a1a1a" stroke="#1a1a1a" stroke-width="0.25">pbfusion</text>
</svg>
</body></html>
